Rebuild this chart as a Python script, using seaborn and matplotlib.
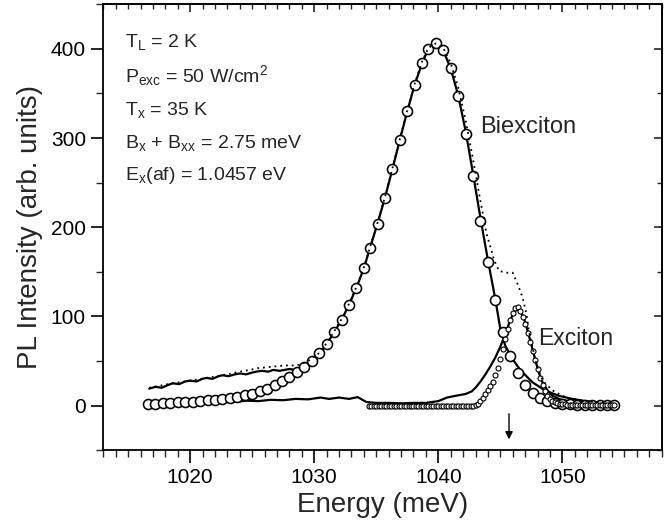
import numpy as np
import pandas as pd
import matplotlib
matplotlib.use("Agg")
import matplotlib.pyplot as plt
import seaborn as sns
from matplotlib.ticker import MultipleLocator

# biexciton fit (large open circles)
bx_fit_E = [1016.6, 1017.2, 1017.8, 1018.4, 1019.0, 1019.6, 1020.2, 1020.8, 1021.4, 1022.0,
            1022.6, 1023.2, 1023.8, 1024.4, 1025.0, 1025.6, 1026.2, 1026.8, 1027.4, 1028.0,
            1028.6, 1029.2, 1029.8, 1030.4, 1031.0, 1031.6, 1032.2, 1032.8, 1033.4, 1034.0,
            1034.5, 1035.1, 1035.7, 1036.3, 1036.9, 1037.5, 1038.1, 1038.7, 1039.2, 1039.8,
            1040.4, 1041.0, 1041.6, 1042.2, 1042.8, 1043.4, 1044.0, 1044.6, 1045.2, 1045.8,
            1046.4, 1047.0, 1047.6, 1048.2, 1048.8, 1049.4, 1050.0, 1050.6, 1051.2, 1051.8,
            1052.4, 1053.0, 1053.6, 1054.2]
bx_fit_I = [1.5, 2, 2.5, 3, 3.5, 4, 4.5, 5, 6, 6.5,
            7.5, 8.5, 10, 11.5, 13.5, 16, 19, 23, 27.5, 32.5,
            37.5, 43, 50, 59, 69, 82, 96, 113, 132, 154,
            177, 204, 233, 265, 298, 330, 359, 384, 400, 406,
            399, 379, 347, 305, 257, 207, 161, 118, 82, 56,
            36, 23, 14, 8, 5, 3, 2, 1.5, 1, 1,
            0.5, 0.5, 0.5, 0.5]

# exciton fit (small open circles)
x_fit_E = [1034.4, 1034.6, 1034.8, 1035.0, 1035.2, 1035.4, 1035.6, 1035.8, 1036.0, 1036.2,
           1036.4, 1036.6, 1036.8, 1037.0, 1037.2, 1037.4, 1037.6, 1037.8, 1038.0, 1038.2,
           1038.4, 1038.6, 1038.8, 1039.0, 1039.2, 1039.4, 1039.6, 1039.8, 1040.0, 1040.2,
           1040.4, 1040.6, 1040.8, 1041.0, 1041.2, 1041.4, 1041.6, 1041.8, 1042.0, 1042.2,
           1042.4, 1042.6, 1042.8, 1043.0, 1043.2, 1043.4, 1043.6, 1043.8, 1044.0, 1044.2,
           1044.4, 1044.6, 1044.8, 1045.0, 1045.2, 1045.4, 1045.6, 1045.8, 1046.0, 1046.2,
           1046.4, 1046.6, 1046.8, 1047.0, 1047.2, 1047.4, 1047.6, 1047.8, 1048.0, 1048.2,
           1048.4, 1048.6, 1048.8, 1049.0, 1049.2, 1049.4, 1049.6, 1049.8, 1050.0, 1050.2,
           1050.4, 1050.6, 1050.8, 1051.0, 1051.2, 1051.4, 1051.6, 1051.8, 1052.0, 1052.2,
           1052.4, 1052.6, 1052.8, 1053.0, 1053.2, 1053.4, 1053.6, 1053.8, 1054.0, 1054.2]
x_fit_I = [0, 0, 0, 0, 0, 0, 0, 0, 0, 0,
           0, 0, 0, 0, 0, 0, 0, 0, 0, 0,
           0, 0, 0, 0, 0, 0, 0, 0, 0, 0,
           0, 0, 0, 0, 0, 0, 0, 0, 0, 0,
           0, 0, 0, 1, 2, 5, 9, 13, 17, 22,
           27, 34, 42, 52, 64, 75, 86, 96, 104, 109,
           110, 106, 99, 91, 81, 71, 61, 51, 41, 31,
           23, 16, 11, 7, 5, 4, 3, 2, 2, 1.5,
           1, 1, 1, 1, 1, 1, 1, 0.5, 0.5, 0.5,
           0.5, 0.5, 0.5, 0.5, 0.5, 0.5, 0.5, 0.5, 0.5, 0.5]

# measured biexciton part (upper solid line)
bx_meas_E = [1016.7, 1017.2, 1017.7, 1018.2, 1018.6, 1019.1, 1019.6, 1020.0, 1020.5, 1021.0,
             1021.3, 1021.8, 1022.3, 1022.6, 1023.1, 1023.6, 1024.0, 1024.5, 1025.0, 1025.3,
             1025.8, 1026.3, 1026.7, 1027.2, 1027.6, 1028.0, 1028.5, 1028.9, 1029.3, 1029.8,
             1030.4, 1031.0, 1031.6, 1032.2, 1032.8, 1033.4, 1034.0, 1034.5, 1035.1, 1035.7,
             1036.3, 1036.9, 1037.5, 1038.1, 1038.7, 1039.2, 1039.8, 1040.4, 1041.0, 1041.6,
             1042.2, 1042.8, 1043.4, 1044.0, 1044.6, 1045.0, 1045.4, 1046.0, 1046.6, 1047.6,
             1048.6, 1049.7, 1050.8, 1051.9, 1053.0, 1054.0]
bx_meas_I = [19, 21, 20, 23, 25, 24, 27, 28, 27, 30,
             31, 30, 33, 34, 33, 35, 36, 35, 37, 38,
             39, 38, 40, 39, 40, 41, 40, 42, 44, 49,
             58, 69, 82, 96, 113, 132, 154, 177, 204, 233,
             265, 298, 330, 360, 384, 400, 405, 398, 378, 348,
             308, 260, 210, 163, 119, 86, 67, 52, 40, 26,
             17, 11, 7.5, 5, 3.5, 2.5]

# total measured spectrum (dotted line)
tot_E = [1016.7, 1018.6, 1020.0, 1021.3, 1022.6, 1024.0, 1024.8, 1025.5, 1026.2, 1026.9,
         1027.6, 1028.3, 1028.9, 1029.5, 1030.4, 1031.0, 1031.6, 1032.2, 1032.8, 1033.4,
         1034.0, 1034.5, 1035.1, 1035.7, 1036.3, 1036.9, 1037.5, 1038.1, 1038.7, 1039.2,
         1039.8, 1040.4, 1041.0, 1041.6, 1042.2, 1042.8, 1043.4, 1043.9, 1044.2, 1044.5,
         1044.9, 1045.5, 1046.0, 1046.4, 1046.8, 1047.1, 1047.3, 1047.6, 1047.9, 1048.4,
         1049.2, 1050.3, 1051.6, 1053.0, 1054.0]
tot_I = [20, 25, 28, 31, 34, 38, 40, 42, 43, 44,
         45, 45, 46, 50, 59, 70, 83, 97, 114, 133,
         155, 178, 205, 234, 266, 299, 331, 361, 386, 401,
         406, 401, 384, 357, 320, 276, 229, 192, 178, 163,
         151, 149, 149, 136, 121, 103, 84, 65, 47, 28,
         17, 9, 5.6, 3.7, 2.5]

# measured exciton part (lower solid line)
x_meas_E = [1016.7, 1017.5, 1018.5, 1019.5, 1020.5, 1021.5, 1022.5, 1023.5, 1024.5, 1025.5,
            1026.5, 1027.5, 1028.5, 1029.5, 1030.5, 1031.2, 1032.0, 1032.8, 1033.5, 1034.2,
            1035.0, 1036.0, 1037.0, 1038.0, 1039.0, 1040.0, 1040.7, 1041.4, 1042.2, 1042.7,
            1043.0, 1043.4, 1043.8, 1044.2, 1044.6, 1045.0, 1045.4, 1045.7, 1046.0, 1046.3,
            1046.6, 1046.9, 1047.2, 1047.5, 1047.8, 1048.1, 1048.4, 1048.8, 1049.2, 1049.8,
            1050.5, 1051.5, 1052.5, 1053.5, 1054.2]
x_meas_I = [1, 2, 1.5, 3, 2.5, 4, 4.5, 4, 5.5, 5,
            6.5, 6, 7.5, 7, 9, 7.5, 9, 7.5, 9.5, 4,
            3, 3, 2.5, 3, 3, 5, 9, 11, 13, 16,
            20, 27, 35, 44, 54, 66, 80, 92, 102, 108,
            106, 98, 84, 68, 52, 37, 26, 17, 11, 7,
            5, 3, 2, 1.5, 1]

params = ["T$_L$ = 2 K",
          "P$_{exc}$ = 50 W/cm$^2$",
          "T$_x$ = 35 K",
          "B$_x$ + B$_{xx}$ = 2.75 meV",
          "E$_x$(af) = 1.0457 eV"]
E_af = 1045.7

sns.set_theme(style="ticks")
plt.rcParams["font.family"] = ["Liberation Sans", "DejaVu Sans"]
plt.rcParams["mathtext.default"] = "regular"

fig = plt.figure(figsize=(6.71, 5.29), dpi=100)
ax = fig.add_axes([0.154, 0.149, 0.832, 0.843])

# solid lines
sns.lineplot(x=x_meas_E, y=x_meas_I, sort=False, estimator=None, color="black",
             linewidth=1.6, ax=ax, zorder=2)
sns.lineplot(x=bx_meas_E, y=bx_meas_I, sort=False, estimator=None, color="black",
             linewidth=1.6, ax=ax, zorder=2)

# fits
sns.scatterplot(x=bx_fit_E, y=bx_fit_I, marker="o", s=52, color="white",
                edgecolor="black", linewidth=1.15, ax=ax, zorder=3)
sns.scatterplot(x=x_fit_E, y=x_fit_I, marker="o", s=13, color="white",
                edgecolor="black", linewidth=0.8, ax=ax, zorder=3)

# total spectrum, dotted
sns.lineplot(x=tot_E, y=tot_I, sort=False, estimator=None, color="black",
             linewidth=1.3, linestyle=(0, (1, 2.2)), ax=ax, zorder=4)

ax.set_xlim(1013, 1058)
ax.set_ylim(-50, 450)
ax.xaxis.set_major_locator(MultipleLocator(10))
ax.xaxis.set_minor_locator(MultipleLocator(1))
ax.yaxis.set_major_locator(MultipleLocator(100))
ax.yaxis.set_minor_locator(MultipleLocator(50))
ax.tick_params(which="major", direction="out", length=9, width=1.2, labelsize=15,
               colors="black")
ax.tick_params(which="minor", direction="out", length=5, width=1.0)
for sp in ax.spines.values():
    sp.set_visible(True)
    sp.set_linewidth(1.3)
    sp.set_color("black")

# mirrored inward ticks on top and right
secx = ax.secondary_xaxis("top")
secx.xaxis.set_major_locator(MultipleLocator(10))
secx.xaxis.set_minor_locator(MultipleLocator(1))
secx.tick_params(which="major", direction="in", length=6, width=1.2, labeltop=False)
secx.tick_params(which="minor", direction="in", length=3.5, width=1.0)
secy = ax.secondary_yaxis("right")
secy.yaxis.set_major_locator(MultipleLocator(100))
secy.yaxis.set_minor_locator(MultipleLocator(50))
secy.tick_params(which="major", direction="in", length=6, width=1.2, labelright=False)
secy.tick_params(which="minor", direction="in", length=3.5, width=1.0)

ax.set_xlabel("Energy (meV)", fontsize=20, labelpad=4)
ax.set_ylabel("PL Intensity (arb. units)", fontsize=20, labelpad=6)

baselines = [0.9036, 0.8251, 0.7511, 0.6771, 0.6054]
for txt, yb in zip(params, baselines):
    ax.text(0.039, yb, txt, transform=ax.transAxes, fontsize=14, va="baseline",
            ha="left")

ax.text(1043.4, 312, "Biexciton", fontsize=17, va="center", ha="left")
ax.text(1048.05, 75, "Exciton", fontsize=16.5, va="center", ha="left")

ax.annotate("", xy=(E_af, -41), xytext=(E_af, -6),
            arrowprops=dict(arrowstyle="-|>", color="black", lw=1.0, mutation_scale=11))

fig.savefig("out.png", dpi=100)
